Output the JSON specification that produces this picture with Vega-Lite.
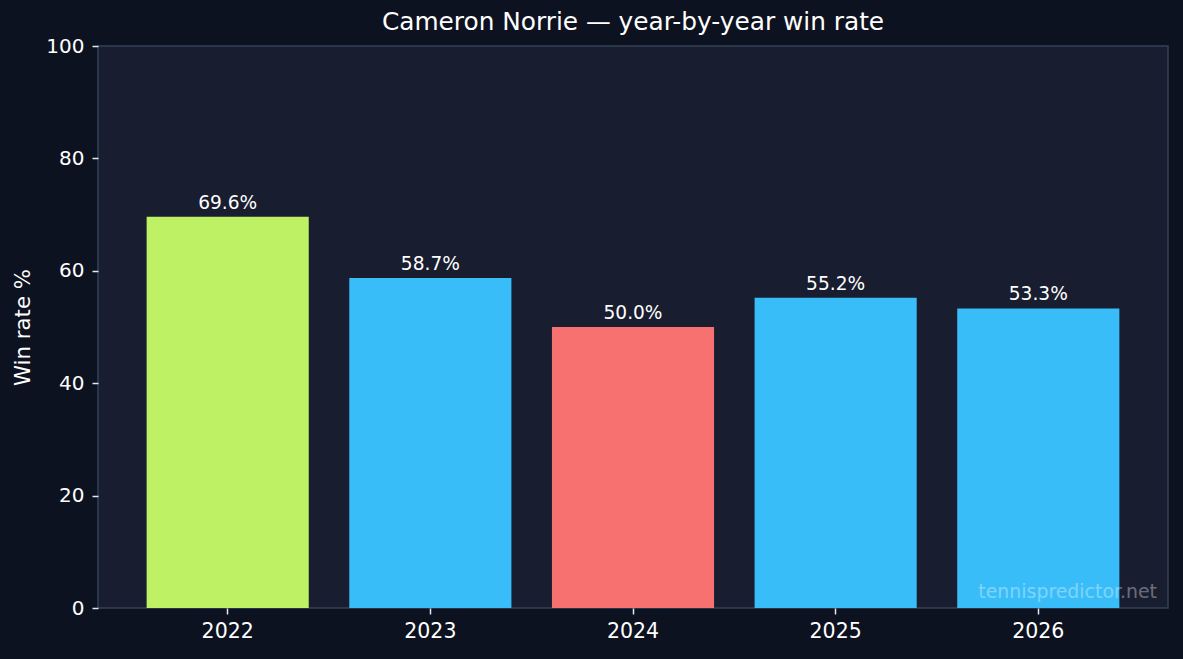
{
  "$schema": "https://vega.github.io/schema/vega-lite/v6.json",
  "autosize": {"type": "none"},
  "width": 1070,
  "height": 562,
  "padding": {"left": 98, "top": 46, "right": 15, "bottom": 51},
  "background": "#0d1220",
  "config": {
    "font": "DejaVu Sans",
    "view": {"fill": "#181d2f", "stroke": "#334155", "strokeWidth": 1.5}
  },
  "view": {"fill": "#181d2f", "stroke": "#334155", "strokeWidth": 1.5},
  "title": {
    "text": "Cameron Norrie — year-by-year win rate",
    "fontSize": 24.8,
    "fontWeight": "normal",
    "color": "#ffffff",
    "baseline": "alphabetic",
    "offset": -19,
    "anchor": "middle"
  },
  "data": {
    "values": [
      {"year": "2022", "rate": 69.6, "tier": "best"},
      {"year": "2023", "rate": 58.7, "tier": "other"},
      {"year": "2024", "rate": 50.0, "tier": "worst"},
      {"year": "2025", "rate": 55.2, "tier": "other"},
      {"year": "2026", "rate": 53.3, "tier": "other"}
    ]
  },
  "transform": [
    {"calculate": "format(datum.rate, '.1f') + '%'", "as": "label"}
  ],
  "layer": [
    {
      "mark": {"type": "bar"},
      "encoding": {
        "x": {
          "field": "year",
          "type": "ordinal",
          "scale": {"paddingInner": 0.2, "paddingOuter": 0.24},
          "axis": {
            "title": null,
            "labelAngle": 0,
            "domain": false,
            "grid": false,
            "tickSize": 6,
            "tickWidth": 1.5,
            "tickColor": "#e2e8f0",
            "labelColor": "#ffffff",
            "labelFontSize": 20.5,
            "labelPadding": 7
          }
        },
        "y": {
          "field": "rate",
          "type": "quantitative",
          "scale": {"domain": [0, 100], "nice": false},
          "axis": {
            "title": "Win rate %",
            "titleColor": "#ffffff",
            "titleFontSize": 21.3,
            "titleFontWeight": "normal",
            "titlePadding": 12,
            "values": [0, 20, 40, 60, 80, 100],
            "domain": false,
            "grid": false,
            "tickSize": 6,
            "tickWidth": 1.5,
            "tickColor": "#e2e8f0",
            "labelColor": "#ffffff",
            "labelFontSize": 20,
            "labelPadding": 8
          }
        },
        "color": {
          "field": "tier",
          "type": "nominal",
          "scale": {"domain": ["best", "other", "worst"], "range": ["#bef264", "#38bdf8", "#f87171"]},
          "legend": null
        }
      }
    },
    {
      "mark": {"type": "text", "baseline": "alphabetic", "dy": -8, "fontSize": 18.6, "color": "#ffffff"},
      "encoding": {
        "x": {"field": "year", "type": "ordinal"},
        "y": {"field": "rate", "type": "quantitative"},
        "text": {"field": "label"}
      }
    },
    {
      "data": {"values": [{"mark": "tennispredictor.net"}]},
      "mark": {
        "type": "text",
        "align": "right",
        "baseline": "alphabetic",
        "fontSize": 18.9,
        "color": "#ffffff",
        "opacity": 0.35,
        "x": {"expr": "width - 11"},
        "y": {"expr": "height - 10"}
      },
      "encoding": {
        "text": {"field": "mark"}
      }
    }
  ]
}
